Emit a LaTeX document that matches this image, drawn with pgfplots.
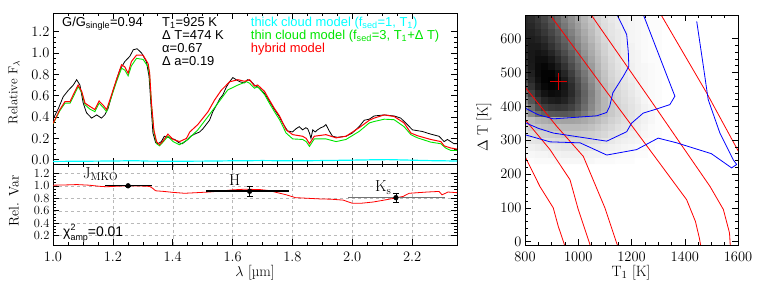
\documentclass[border=0pt]{standalone}
\usepackage{fontspec}
\usepackage{pgfplots}
\pgfplotsset{compat=1.18}
\newfontfamily\hv{Liberation Sans}
\definecolor{cyanc}{rgb}{0,1,1}
\definecolor{greenc}{rgb}{0,0.9,0}
\definecolor{ksgray}{rgb}{0.45,0.45,0.45}
\begin{document}
\begin{tikzpicture}
\useasboundingbox (0bp,0bp) rectangle (761bp,289bp);
\pgfplotsset{idl/.style={scale only axis, tick align=inside, major tick length=6bp, minor tick length=3bp,
  tick style={black, line width=0.5bp}, axis line style={line width=0.7bp},
  /pgf/number format/assume math mode=true,
  tick label style={font=\fontsize{14.5}{14.5}\selectfont}}}

% ---------------- top panel: spectra ----------------
\begin{axis}[idl, at={(53bp,125bp)}, anchor=south west, width=404bp, height=151bp,
  xmin=1, xmax=2.35, ymin=-0.04, ymax=1.375,
  xtick={1.0,1.2,1.4,1.6,1.8,2.0,2.2}, xticklabels={}, minor x tick num=3,
  ytick={0,0.2,0.4,0.6,0.8,1.0,1.2}, minor y tick num=3,
  yticklabel style={/pgf/number format/fixed, /pgf/number format/fixed zerofill, /pgf/number format/precision=1}]
\addplot[black, line width=0.8bp] table {
x y
1.000 0.38
1.018 0.48
1.034 0.59
1.051 0.65
1.068 0.70
1.079 0.75
1.090 0.70
1.101 0.53
1.112 0.44
1.129 0.39
1.146 0.42
1.162 0.39
1.173 0.42
1.184 0.48
1.201 0.65
1.223 0.84
1.240 0.92
1.257 0.97
1.268 1.03
1.281 1.04
1.296 1.00
1.312 0.92
1.321 0.78
1.327 0.53
1.334 0.25
1.343 0.16
1.351 0.15
1.362 0.17
1.372 0.22
1.384 0.21
1.395 0.20
1.407 0.19
1.420 0.16
1.432 0.15
1.446 0.18
1.460 0.22
1.473 0.24
1.490 0.26
1.501 0.29
1.512 0.33
1.523 0.37
1.534 0.45
1.546 0.51
1.557 0.57
1.568 0.61
1.579 0.68
1.590 0.73
1.601 0.77
1.612 0.75
1.625 0.73
1.640 0.72
1.650 0.75
1.660 0.74
1.673 0.70
1.690 0.67
1.707 0.62
1.723 0.55
1.740 0.47
1.757 0.40
1.768 0.34
1.784 0.27
1.800 0.26
1.812 0.29
1.823 0.31
1.834 0.28
1.845 0.30
1.851 0.29
1.857 0.25
1.862 0.20
1.868 0.28
1.876 0.26
1.884 0.28
1.895 0.30
1.904 0.31
1.912 0.33
1.923 0.27
1.934 0.22
1.950 0.21
1.979 0.22
2.000 0.25
2.023 0.31
2.040 0.37
2.057 0.38
2.073 0.41
2.107 0.42
2.140 0.41
2.162 0.39
2.184 0.33
2.201 0.28
2.234 0.265
2.262 0.24
2.290 0.22
2.307 0.17
2.318 0.19
2.340 0.15
2.350 0.15
};
\addplot[greenc, line width=0.9bp] table {
x y
1.000 0.335
1.023 0.46
1.040 0.53
1.057 0.53
1.073 0.62
1.084 0.685
1.096 0.63
1.107 0.515
1.123 0.475
1.140 0.45
1.154 0.53
1.168 0.49
1.179 0.45
1.190 0.545
1.212 0.73
1.229 0.857
1.240 0.84
1.251 0.786
1.262 0.88
1.279 0.95
1.301 0.94
1.318 0.87
1.323 0.78
1.329 0.51
1.337 0.265
1.346 0.15
1.356 0.13
1.366 0.16
1.384 0.22
1.401 0.17
1.423 0.14
1.451 0.19
1.484 0.28
1.518 0.405
1.551 0.53
1.584 0.654
1.618 0.70
1.646 0.732
1.657 0.717
1.673 0.67
1.684 0.685
1.707 0.61
1.723 0.53
1.740 0.45
1.757 0.375
1.779 0.25
1.801 0.195
1.834 0.19
1.846 0.17
1.857 0.125
1.873 0.195
1.912 0.195
1.946 0.17
1.979 0.19
2.023 0.265
2.057 0.345
2.073 0.358
2.107 0.38
2.140 0.375
2.173 0.31
2.196 0.235
2.218 0.205
2.262 0.165
2.296 0.15
2.312 0.11
2.329 0.087
2.350 0.087
};
\addplot[red, line width=1.0bp] table {
x y
1.000 0.34
1.023 0.47
1.040 0.545
1.057 0.545
1.073 0.64
1.084 0.70
1.096 0.64
1.107 0.53
1.123 0.50
1.140 0.47
1.154 0.55
1.168 0.51
1.179 0.47
1.190 0.56
1.212 0.75
1.229 0.89
1.240 0.87
1.251 0.81
1.262 0.92
1.279 0.98
1.301 0.98
1.318 0.90
1.323 0.81
1.329 0.53
1.337 0.28
1.346 0.17
1.356 0.14
1.366 0.17
1.384 0.24
1.401 0.19
1.423 0.17
1.446 0.20
1.457 0.26
1.484 0.33
1.518 0.45
1.540 0.56
1.562 0.65
1.590 0.73
1.618 0.75
1.640 0.735
1.657 0.75
1.673 0.69
1.684 0.70
1.707 0.64
1.723 0.56
1.740 0.48
1.757 0.41
1.779 0.28
1.801 0.235
1.834 0.22
1.846 0.20
1.857 0.15
1.873 0.22
1.912 0.235
1.946 0.205
1.979 0.22
2.023 0.30
2.057 0.37
2.073 0.39
2.107 0.42
2.140 0.405
2.173 0.345
2.196 0.25
2.218 0.225
2.262 0.19
2.296 0.17
2.307 0.13
2.329 0.11
2.350 0.10
};
\addplot[cyanc, line width=1.2bp] table {
x y
1.00 -0.016
1.10 -0.014
1.20 -0.012
1.27 -0.009
1.32 -0.013
1.40 -0.014
1.50 -0.013
1.60 -0.010
1.70 -0.008
1.80 -0.010
1.90 -0.008
2.00 -0.004
2.08 0.000
2.12 0.001
2.18 -0.003
2.25 -0.008
2.35 -0.012
};
\end{axis}

% ---------------- bottom panel: relative variability ----------------
\begin{axis}[idl, at={(53bp,44bp)}, anchor=south west, width=404bp, height=81bp,
  xmin=1, xmax=2.35, ymin=0.05, ymax=1.35,
  xtick={1.0,1.2,1.4,1.6,1.8,2.0,2.2}, minor x tick num=3,
  ytick={0.2,0.4,0.6,0.8,1.0,1.2}, minor y tick num=3,
  grid=major, grid style={dashed, gray!55, line width=0.4bp},
  xticklabel style={yshift=-3bp},
  xticklabel style={/pgf/number format/fixed, /pgf/number format/fixed zerofill, /pgf/number format/precision=1},
  yticklabel style={font=\fontsize{12.5}{12.5}\selectfont, /pgf/number format/fixed, /pgf/number format/fixed zerofill, /pgf/number format/precision=1}]
\addplot[red, line width=0.8bp] table {
x y
1.00 1.01
1.05 1.015
1.08 1.02
1.12 1.01
1.16 0.99
1.18 0.985
1.22 0.995
1.26 1.00
1.30 0.995
1.323 0.99
1.333 0.96
1.343 0.92
1.37 0.91
1.40 0.895
1.44 0.88
1.48 0.89
1.52 0.90
1.56 0.915
1.60 0.935
1.64 0.945
1.69 0.94
1.72 0.925
1.75 0.89
1.78 0.855
1.81 0.81
1.85 0.80
1.89 0.79
1.93 0.785
1.97 0.77
2.00 0.72
2.03 0.72
2.07 0.74
2.10 0.765
2.14 0.80
2.17 0.83
2.19 0.88
2.22 0.89
2.25 0.90
2.29 0.91
2.30 0.855
2.32 0.90
2.35 0.89
};
\addplot[black, line width=1.1bp] coordinates {(1.173,1.0) (1.33,1.0)};
\addplot[black, line width=1.1bp] coordinates {(1.512,0.917) (1.79,0.917)};
\addplot[ksgray, line width=1.1bp] coordinates {(1.987,0.817) (2.31,0.817)};
\addplot[black, only marks, mark=*, mark size=2.4bp,
  error bars/.cd, y dir=both, y explicit,
  error bar style={black, line width=0.8bp},
  error mark options={rotate=90, mark size=3bp, black, line width=0.8bp}]
  coordinates {(1.251,1.0) +- (0,0.01) (1.657,0.912) +- (0,0.075) (2.146,0.81) +- (0,0.07)};
\end{axis}

% ---------------- right panel: likelihood map ----------------
\begin{axis}[idl, at={(525bp,44bp)}, anchor=south west, width=213bp, height=230bp,
  xmin=800, xmax=1600, ymin=-10, ymax=670, axis on top,
  xtick={800,1000,1200,1400,1600}, minor x tick num=3,
  ytick={0,100,200,300,400,500,600}, minor y tick num=4,
  xticklabel style={yshift=-3bp},
  /pgf/number format/1000 sep={},
  colormap={bw}{gray(0cm)=(1); gray(1cm)=(0)}, point meta min=0, point meta max=1]
\addplot[matrix plot*, mesh/cols=21, point meta=explicit] table[meta=z] {
x y z
800 240 .01
825 240 .01
850 240 .02
875 240 .02
900 240 .02
925 240 .03
950 240 .03
975 240 .03
1000 240 .03
1025 240 .03
1050 240 .03
1075 240 .02
1100 240 .02
1125 240 .02
1150 240 .01
1175 240 .01
1200 240 .01
1225 240 0
1250 240 0
1275 240 0
1300 240 0
800 260 .03
825 260 .03
850 260 .04
875 260 .04
900 260 .05
925 260 .05
950 260 .06
975 260 .06
1000 260 .06
1025 260 .06
1050 260 .05
1075 260 .05
1100 260 .04
1125 260 .04
1150 260 .03
1175 260 .02
1200 260 .02
1225 260 .01
1250 260 .01
1275 260 0
1300 260 0
800 280 .05
825 280 .06
850 280 .07
875 280 .08
900 280 .08
925 280 .09
950 280 .10
975 280 .10
1000 280 .10
1025 280 .10
1050 280 .09
1075 280 .08
1100 280 .07
1125 280 .06
1150 280 .05
1175 280 .04
1200 280 .03
1225 280 .02
1250 280 .02
1275 280 .01
1300 280 0
800 300 .08
825 300 .10
850 300 .11
875 300 .12
900 300 .13
925 300 .14
950 300 .15
975 300 .15
1000 300 .15
1025 300 .15
1050 300 .14
1075 300 .13
1100 300 .11
1125 300 .09
1150 300 .07
1175 300 .06
1200 300 .05
1225 300 .04
1250 300 .02
1275 300 .01
1300 300 .01
800 320 .12
825 320 .15
850 320 .17
875 320 .18
900 320 .19
925 320 .20
950 320 .21
975 320 .21
1000 320 .21
1025 320 .20
1050 320 .19
1075 320 .17
1100 320 .15
1125 320 .12
1150 320 .10
1175 320 .08
1200 320 .06
1225 320 .05
1250 320 .03
1275 320 .02
1300 320 .01
800 340 .16
825 340 .20
850 340 .22
875 340 .24
900 340 .25
925 340 .26
950 340 .27
975 340 .27
1000 340 .27
1025 340 .26
1050 340 .24
1075 340 .21
1100 340 .18
1125 340 .15
1150 340 .12
1175 340 .10
1200 340 .08
1225 340 .06
1250 340 .04
1275 340 .02
1300 340 .01
800 360 .20
825 360 .26
850 360 .30
875 360 .32
900 360 .34
925 360 .35
950 360 .36
975 360 .36
1000 360 .35
1025 360 .33
1050 360 .30
1075 360 .26
1100 360 .22
1125 360 .18
1150 360 .15
1175 360 .12
1200 360 .10
1225 360 .07
1250 360 .05
1275 360 .03
1300 360 .01
800 380 .30
825 380 .45
850 380 .56
875 380 .62
900 380 .65
925 380 .66
950 380 .66
975 380 .64
1000 380 .59
1025 380 .51
1050 380 .42
1075 380 .34
1100 380 .27
1125 380 .21
1150 380 .17
1175 380 .14
1200 380 .11
1225 380 .08
1250 380 .05
1275 380 .03
1300 380 .01
800 400 .38
825 400 .56
850 400 .68
875 400 .75
900 400 .78
925 400 .79
950 400 .78
975 400 .74
1000 400 .67
1025 400 .57
1050 400 .46
1075 400 .36
1100 400 .28
1125 400 .21
1150 400 .17
1175 400 .14
1200 400 .11
1225 400 .08
1250 400 .05
1275 400 .03
1300 400 .01
800 420 .48
825 420 .66
850 420 .78
875 420 .85
900 420 .88
925 420 .89
950 420 .86
975 420 .80
1000 420 .71
1025 420 .60
1050 420 .48
1075 420 .37
1100 420 .28
1125 420 .21
1150 420 .16
1175 420 .13
1200 420 .10
1225 420 .07
1250 420 .04
1275 420 .02
1300 420 .01
800 440 .58
825 440 .74
850 440 .85
875 440 .92
900 440 .95
925 440 .94
950 440 .90
975 440 .83
1000 440 .73
1025 440 .61
1050 440 .49
1075 440 .37
1100 440 .27
1125 440 .20
1150 440 .15
1175 440 .12
1200 440 .09
1225 440 .06
1250 440 .04
1275 440 .02
1300 440 .01
800 460 .66
825 460 .80
850 460 .90
875 460 .96
900 460 .98
925 460 .97
950 460 .91
975 460 .82
1000 460 .71
1025 460 .59
1050 460 .47
1075 460 .35
1100 460 .26
1125 460 .19
1150 460 .14
1175 460 .11
1200 460 .08
1225 460 .05
1250 460 .03
1275 460 .02
1300 460 .01
800 480 .72
825 480 .84
850 480 .93
875 480 .98
900 480 1
925 480 .97
950 480 .89
975 480 .79
1000 480 .68
1025 480 .56
1050 480 .44
1075 480 .33
1100 480 .24
1125 480 .17
1150 480 .13
1175 480 .10
1200 480 .07
1225 480 .05
1250 480 .03
1275 480 .02
1300 480 .01
800 500 .77
825 500 .87
850 500 .95
875 500 .98
900 500 .98
925 500 .93
950 500 .85
975 500 .75
1000 500 .64
1025 500 .53
1050 500 .42
1075 500 .31
1100 500 .23
1125 500 .16
1150 500 .12
1175 500 .09
1200 500 .06
1225 500 .04
1250 500 .03
1275 500 .02
1300 500 .01
800 520 .80
825 520 .89
850 520 .95
875 520 .97
900 520 .94
925 520 .88
950 520 .80
975 520 .70
1000 520 .60
1025 520 .49
1050 520 .39
1075 520 .29
1100 520 .21
1125 520 .15
1150 520 .11
1175 520 .08
1200 520 .06
1225 520 .04
1250 520 .03
1275 520 .02
1300 520 .01
800 540 .82
825 540 .90
850 540 .94
875 540 .94
900 540 .90
925 540 .83
950 540 .75
975 540 .66
1000 540 .56
1025 540 .46
1050 540 .36
1075 540 .27
1100 540 .20
1125 540 .14
1150 540 .10
1175 540 .07
1200 540 .05
1225 540 .04
1250 540 .02
1275 540 .01
1300 540 .01
800 560 .84
825 560 .90
850 560 .92
875 560 .90
900 560 .85
925 560 .78
950 560 .70
975 560 .61
1000 560 .52
1025 560 .42
1050 560 .33
1075 560 .25
1100 560 .18
1125 560 .13
1150 560 .10
1175 560 .07
1200 560 .05
1225 560 .04
1250 560 .02
1275 560 .01
1300 560 .01
800 580 .85
825 580 .89
850 580 .89
875 580 .86
900 580 .80
925 580 .73
950 580 .65
975 580 .57
1000 580 .48
1025 580 .39
1050 580 .31
1075 580 .23
1100 580 .17
1125 580 .12
1150 580 .09
1175 580 .06
1200 580 .05
1225 580 .03
1250 580 .02
1275 580 .01
1300 580 .01
800 600 .86
825 600 .88
850 600 .86
875 600 .82
900 600 .76
925 600 .69
950 600 .61
975 600 .53
1000 600 .44
1025 600 .36
1050 600 .28
1075 600 .21
1100 600 .15
1125 600 .11
1150 600 .08
1175 600 .06
1200 600 .04
1225 600 .03
1250 600 .02
1275 600 .01
1300 600 .01
800 620 .86
825 620 .86
850 620 .83
875 620 .78
900 620 .72
925 620 .65
950 620 .57
975 620 .49
1000 620 .41
1025 620 .33
1050 620 .26
1075 620 .19
1100 620 .14
1125 620 .10
1150 620 .08
1175 620 .06
1200 620 .04
1225 620 .03
1250 620 .02
1275 620 .01
1300 620 .01
800 640 .85
825 640 .84
850 640 .80
875 640 .75
900 640 .68
925 640 .61
950 640 .53
975 640 .45
1000 640 .38
1025 640 .30
1050 640 .24
1075 640 .18
1100 640 .13
1125 640 .10
1150 640 .07
1175 640 .05
1200 640 .04
1225 640 .03
1250 640 .02
1275 640 .01
1300 640 .01
800 660 .84
825 660 .82
850 660 .78
875 660 .72
900 660 .65
925 660 .58
950 660 .50
975 660 .43
1000 660 .35
1025 660 .28
1050 660 .22
1075 660 .16
1100 660 .12
1125 660 .09
1150 660 .07
1175 660 .05
1200 660 .04
1225 660 .03
1250 660 .02
1275 660 .01
1300 660 .01
800 680 .82
825 680 .80
850 680 .76
875 680 .70
900 680 .62
925 680 .55
950 680 .48
975 680 .40
1000 680 .33
1025 680 .26
1050 680 .20
1075 680 .15
1100 680 .11
1125 680 .08
1150 680 .06
1175 680 .05
1200 680 .04
1225 680 .03
1250 680 .02
1275 680 .01
1300 680 .01
};
% red lines
\addplot[red, line width=0.8bp] coordinates {(800,252) (856,163) (906,100) (925,45) (946,-4) (949,-12)};
\addplot[red, line width=0.8bp] coordinates {(800,361) (894,272) (969,183) (1000,95) (1042,-4) (1045,-12)};
\addplot[red, line width=0.8bp] coordinates {(800,457) (919,341) (1019,252) (1100,100) (1144,-4) (1148,-12)};
\addplot[red, line width=0.8bp] coordinates {(885,680) (1100,450) (1300,238) (1407,124) (1440,60) (1455,10) (1460,-12)};
\addplot[red, line width=0.8bp] coordinates {(1040,680) (1270,420) (1495,163) (1545,95) (1568,26) (1571,-12)};
\addplot[red, line width=0.8bp] coordinates {(1304,680) (1482,440) (1605,262)};
% blue contours
\addplot[blue, line width=0.8bp] coordinates {(1140,680) (1165,640) (1182,612) (1188,560) (1190,518) (1170,490) (1150,465) (1130,440) (1118,400) (1107,382) (1070,372) (1000,368) (906,363) (850,375) (800,395)};
\addplot[blue, line width=0.8bp] coordinates {(1240,680) (1295,568) (1351,454) (1363,430) (1344,405) (1294,392) (1244,380) (1200,350) (1182,325) (1107,297) (1032,306) (906,321) (850,335) (800,352)};
\addplot[blue, line width=0.8bp] coordinates {(800,316) (894,295) (1007,292) (1107,256) (1219,272) (1300,306) (1370,292) (1500,260) (1576,218) (1595,228) (1582,242) (1532,321) (1488,420) (1470,518) (1445,651)};
\addplot[red!85!black, only marks, mark=+, mark size=8.5bp, line width=1bp] coordinates {(925,474)};
\end{axis}

% ---------------- labels ----------------
\node[rotate=90, font=\fontsize{13}{13}\selectfont] at (14bp,196.5bp) {Relative F$_\lambda$};
\node[rotate=90, font=\fontsize{14}{14}\selectfont] at (14bp,88bp) {Rel. Var};
\node[anchor=base, font=\fontsize{15}{15}\selectfont] at (255bp,13bp) {$\lambda$ [µm]};
\node[anchor=base, font=\fontsize{15}{15}\selectfont] at (631bp,12.5bp) {T$_1$ [K]};
\node[rotate=90, font=\fontsize{15}{15}\selectfont] at (484bp,161.5bp) {$\Delta$ T [K]};

\begin{scope}[every node/.style={anchor=base west, inner sep=0pt, font=\hv\fontsize{13}{13}\selectfont}]
\node at (62bp,262.6bp) {G/G\textsubscript{single}=0.94};
\node at (162bp,262.6bp) {T\textsubscript{1}=925 K};
\node at (162bp,249.5bp) {Δ T=474 K};
\node at (162bp,236.3bp) {α=0.67};
\node at (162bp,223.2bp) {Δ a=0.19};
\node[text=cyanc] at (250.7bp,262.6bp) {thick cloud model (f\textsubscript{sed}=1, T\textsubscript{1})};
\node[text=greenc] at (250.7bp,249.5bp) {thin cloud model (f\textsubscript{sed}=3, T\textsubscript{1}+Δ T)};
\node[text=red] at (250.7bp,236.3bp) {hybrid model};
\end{scope}

\node[anchor=base west, inner sep=0pt, font=\fontsize{16}{16}\selectfont] at (83bp,110.7bp) {J$_{\mathrm{MKO}}$};
\node[anchor=base west, inner sep=0pt, font=\fontsize{16}{16}\selectfont] at (229bp,103bp) {H};
\node[anchor=base west, inner sep=0pt, font=\fontsize{16}{16}\selectfont] at (375bp,97.3bp) {K$_{\mathrm{s}}$};
\node[anchor=base west, inner sep=0pt, font=\hv\fontsize{14}{14}\selectfont] at (63bp,52.3bp) {χ\rlap{\raisebox{6.5bp}{\fontsize{9}{9}\selectfont 2}}\raisebox{-3.5bp}{\fontsize{9}{9}\selectfont amp}=0.01};
\end{tikzpicture}
\end{document}
